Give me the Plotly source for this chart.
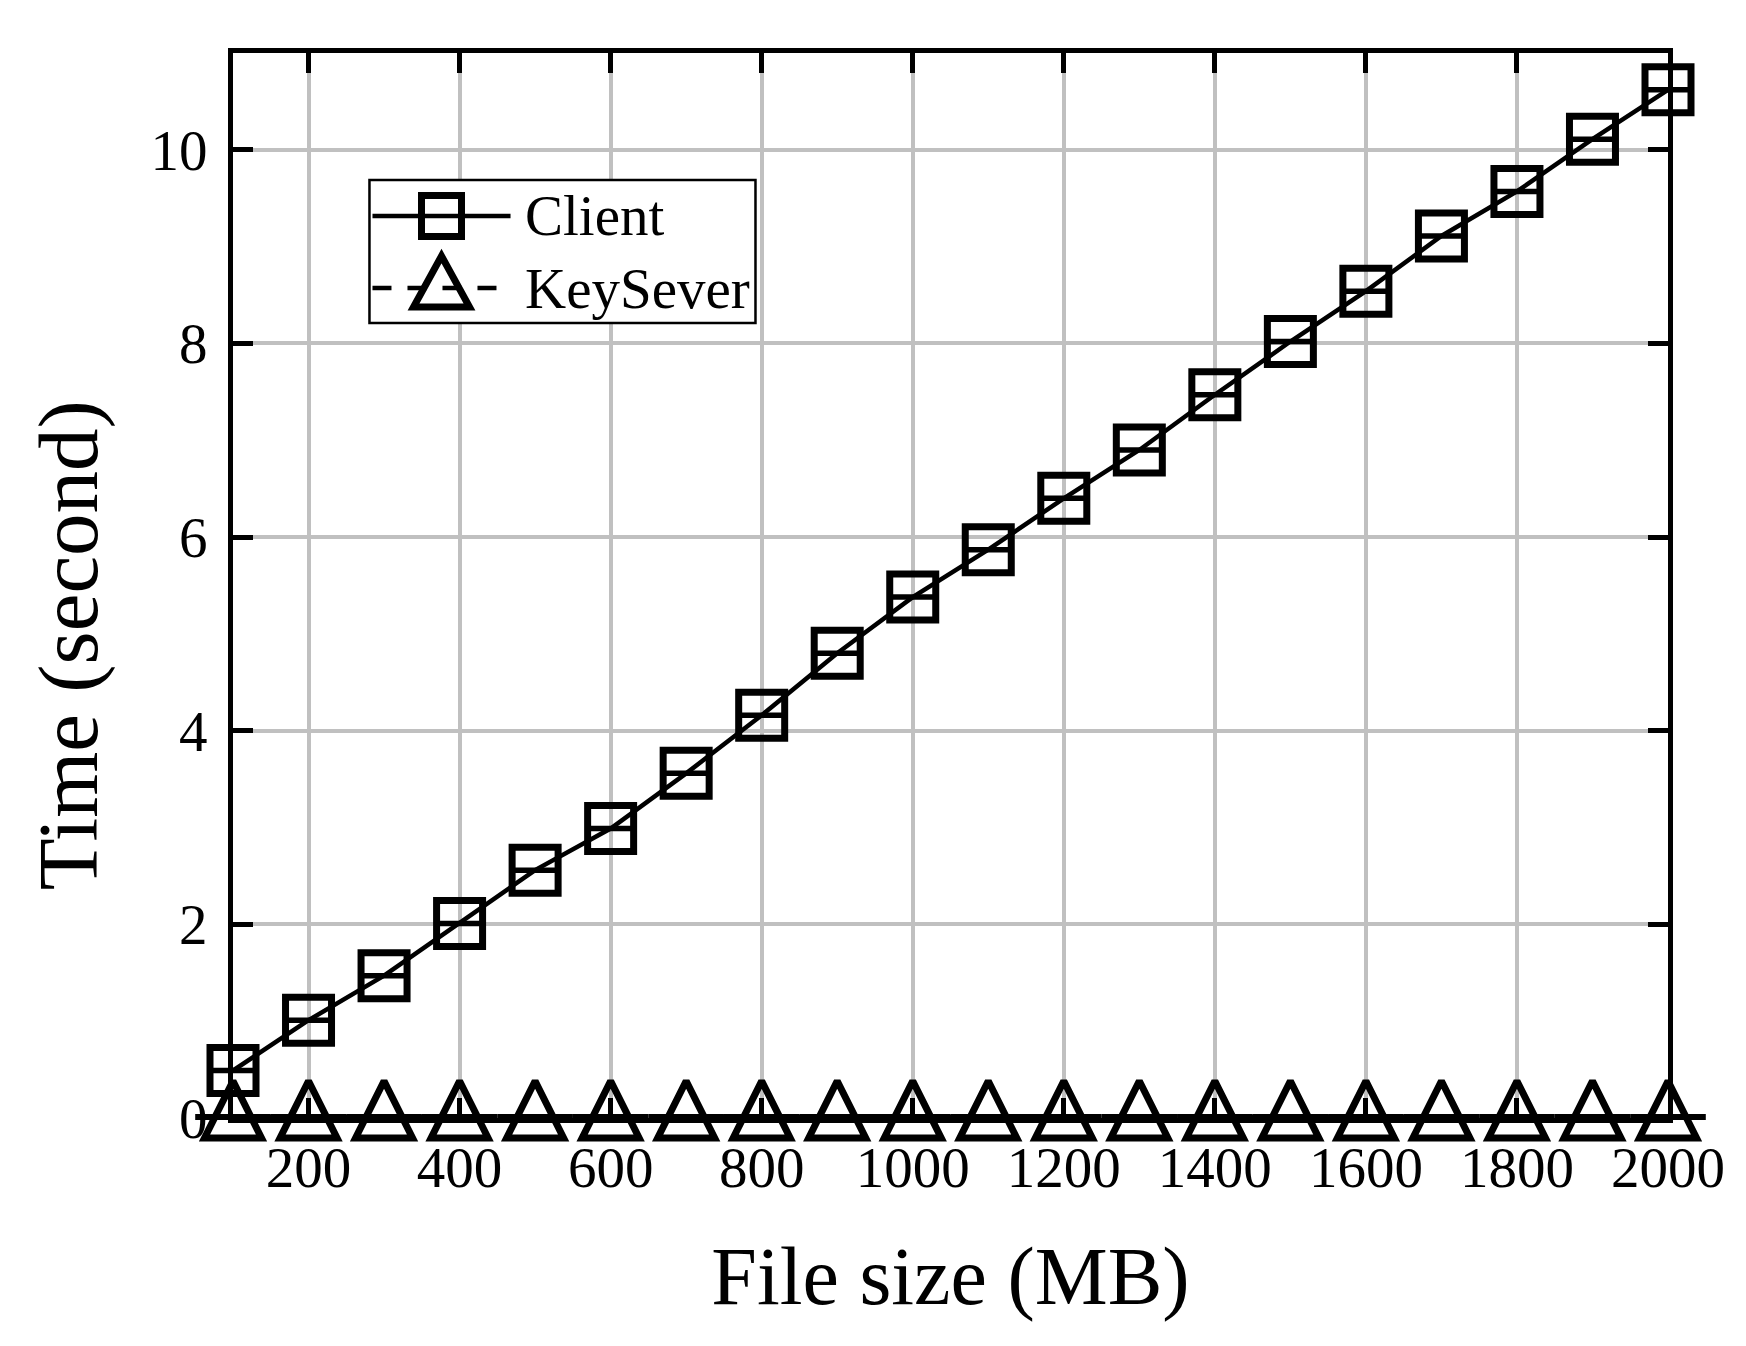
import plotly.graph_objects as go

# ---- data ----
file_size_mb = [100, 200, 300, 400, 500, 600, 700, 800, 900, 1000,
                1100, 1200, 1300, 1400, 1500, 1600, 1700, 1800, 1900, 2000]
client_time = [0.49, 1.01, 1.47, 2.01, 2.56, 2.99, 3.56, 4.16, 4.80, 5.38,
               5.87, 6.40, 6.90, 7.47, 8.02, 8.54, 9.11, 9.57, 10.11, 10.62]
keysever_time = [0.01, 0.01, 0.01, 0.01, 0.01, 0.01, 0.01, 0.01, 0.01, 0.01,
                 0.01, 0.01, 0.01, 0.01, 0.01, 0.01, 0.01, 0.01, 0.01, 0.01]
series_names = ["Client", "KeySever"]
x_ticks = [200, 400, 600, 800, 1000, 1200, 1400, 1600, 1800, 2000]
y_ticks = [0, 2, 4, 6, 8, 10]
x_title = "File size (MB)"
y_title = "Time (second)"

FONT = "Liberation Serif"
BLACK = "#000000"
GRID = "#c0c0c0"
DASH = "19px,16px"

fig = go.Figure()

# KeySever: dashed line with open triangles (upright isosceles marker)
fig.add_trace(go.Scatter(
    x=file_size_mb, y=keysever_time, name=series_names[1],
    mode="lines+markers", cliponaxis=False, showlegend=False,
    line=dict(color=BLACK, width=4.5, dash=DASH),
    marker=dict(symbol="arrow-down-open", angle=180, standoff=36, size=57,
                color=BLACK, line=dict(color=BLACK, width=7)),
))
fig.add_trace(go.Scatter(
    x=file_size_mb, y=keysever_time, mode="markers", cliponaxis=False,
    showlegend=False, hoverinfo="skip",
    marker=dict(symbol="line-ew", size=54, color=BLACK,
                line=dict(color=BLACK, width=6)),
))

# Client: solid line with open squares
fig.add_trace(go.Scatter(
    x=file_size_mb, y=client_time, name=series_names[0],
    mode="lines+markers", cliponaxis=False, showlegend=False,
    line=dict(color=BLACK, width=4.5),
    marker=dict(symbol="square-open", size=46, color=BLACK,
                line=dict(color=BLACK, width=7)),
))
fig.add_trace(go.Scatter(
    x=file_size_mb, y=client_time, mode="markers", cliponaxis=False,
    showlegend=False, hoverinfo="skip",
    marker=dict(symbol="line-ew", size=32, color=BLACK,
                line=dict(color=BLACK, width=5.5)),
))

# ---- legend (boxed key in paper coordinates) ----
lx0, lx1 = 0.0951, 0.3641
ly0, ly1 = 0.7465, 0.8808
row1, row2 = 0.847, 0.7793
seg0, seg1 = 0.0972, 0.1934
mark_x = 0.1453
text_x = 0.2024
shapes = [
    dict(type="rect", xref="paper", yref="paper", x0=lx0, x1=lx1, y0=ly0, y1=ly1,
         line=dict(color=BLACK, width=2.5), fillcolor="white", layer="above"),
    dict(type="line", xref="paper", yref="paper", x0=seg0, x1=seg1, y0=row1, y1=row1,
         line=dict(color=BLACK, width=4.5), layer="above"),
    dict(type="rect", xref="paper", yref="paper", xsizemode="pixel", ysizemode="pixel",
         xanchor=mark_x, yanchor=row1, x0=-20, x1=20, y0=-20.5, y1=20.5,
         line=dict(color=BLACK, width=7), layer="above"),
    dict(type="line", xref="paper", yref="paper", x0=seg0, x1=seg1, y0=row2, y1=row2,
         line=dict(color=BLACK, width=4.5, dash=DASH), layer="above"),
    dict(type="path", xref="paper", yref="paper", xsizemode="pixel", ysizemode="pixel",
         xanchor=mark_x, yanchor=row2,
         path="M-28,-19 L28,-19 L0,32 Z",
         line=dict(color=BLACK, width=7), layer="above"),
]
annotations = [
    dict(text=series_names[0], xref="paper", yref="paper", x=text_x, y=row1,
         xanchor="left", yanchor="middle", showarrow=False,
         font=dict(family=FONT, size=57, color=BLACK)),
    dict(text=series_names[1], xref="paper", yref="paper", x=text_x, y=row2,
         xanchor="left", yanchor="middle", showarrow=False,
         font=dict(family=FONT, size=57, color=BLACK)),
    # y-axis title (sits slightly below the axis centre, as in the reference)
    dict(text=y_title, xref="paper", yref="paper", x=-0.1145, y=0.4435,
         xanchor="center", yanchor="middle", textangle=-90, showarrow=False,
         font=dict(family=FONT, size=85, color=BLACK)),
]

axis_common = dict(
    showline=True, linecolor=BLACK, linewidth=5, mirror="ticks",
    ticks="inside", ticklen=20, tickwidth=5, tickcolor=BLACK,
    showgrid=True, gridcolor=GRID, gridwidth=4.3, zeroline=False,
    tickfont=dict(family=FONT, size=57, color=BLACK),
    automargin=False,
)

fig.update_layout(
    width=1746, height=1346,
    margin=dict(l=225, r=86, t=45, b=236),
    paper_bgcolor="white", plot_bgcolor="white",
    font=dict(family=FONT, color=BLACK),
    showlegend=False,
    shapes=shapes, annotations=annotations,
    xaxis=dict(range=[100, 2000], tickvals=x_ticks,
               ticklabelstandoff=-4,
               title=dict(text=x_title, standoff=50,
                          font=dict(family=FONT, size=82, color=BLACK)),
               **axis_common),
    yaxis=dict(range=[0, 11], tickvals=y_ticks,
               ticklabelstandoff=9,
               **axis_common),
)

fig.write_html("out.html")
